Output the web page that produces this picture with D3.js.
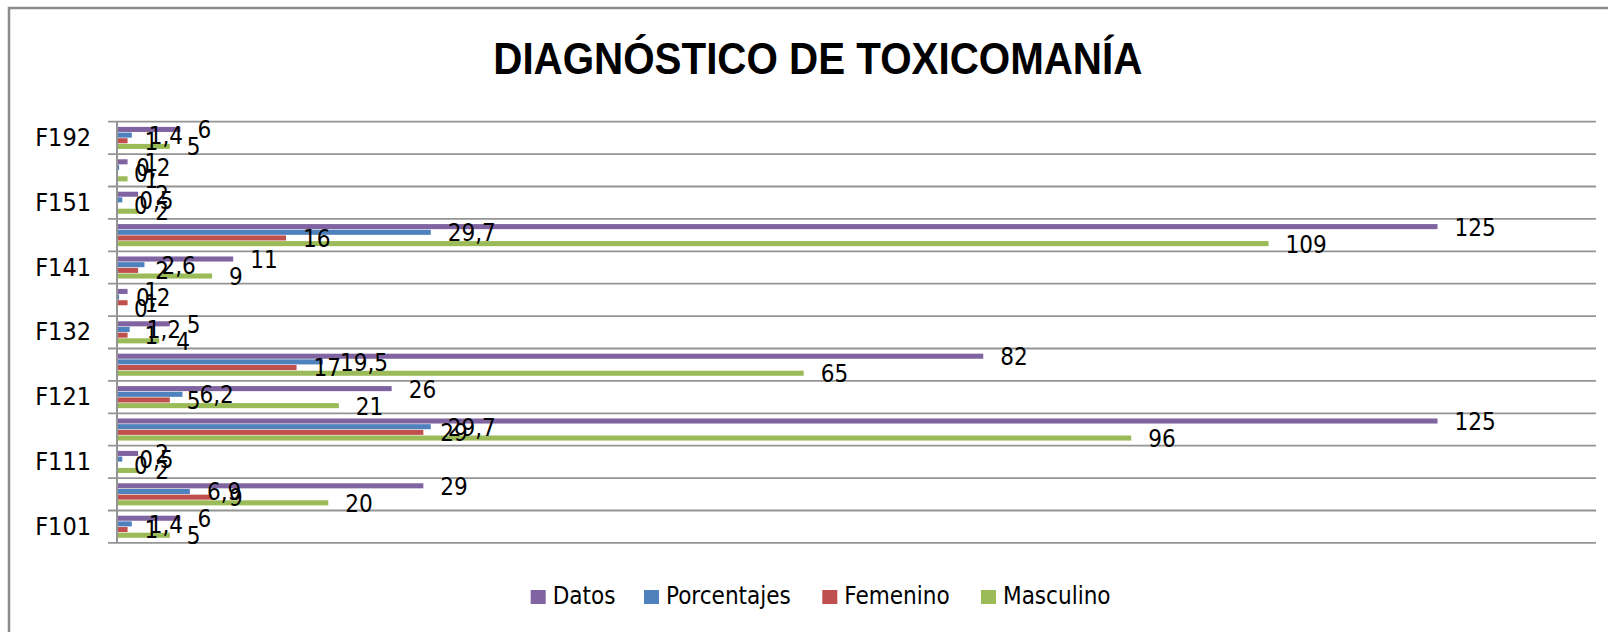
<!DOCTYPE html>
<html>
<head>
<meta charset="utf-8">
<script src="https://cdn.jsdelivr.net/npm/d3@7"></script>
<style>
  body { margin: 0; background: #fff; }
  svg { display: block; }
  text { font-family: "DejaVu Sans Condensed", "DejaVu Sans", sans-serif; fill: #000; }
</style>
</head>
<body>
<svg></svg>
<script>
const size = {w: 1608, h: 632};
const plot = {l: 117, r: 1596, t: 121.7, b: 542.9};

// categories from the bottom row up
const categories = ['F101', 'F102', 'F111', 'F112', 'F121', 'F122', 'F132', 'F133', 'F141', 'F142', 'F151', 'F152', 'F192'];
const series = ['Datos', 'Porcentajes', 'Femenino', 'Masculino'];
const datos       = [6, 29, 2, 125, 26, 82, 5, 1, 11, 125, 2, 1, 6];
const porcentajes = [1.4, 6.9, 0.5, 29.7, 6.2, 19.5, 1.2, 0.2, 2.6, 29.7, 0.5, 0.2, 1.4];
const femenino    = [1, 9, 0, 29, 5, 17, 1, 1, 2, 16, 0, 0, 1];
const masculino   = [5, 20, 2, 96, 21, 65, 4, 0, 9, 109, 2, 1, 5];
const colors = ['#8064A2', '#4F81BD', '#C0504D', '#9BBB59'];

const values = [datos, porcentajes, femenino, masculino];
const rows = categories.map((c, i) => ({
    cat: c,
    vals: series.map((s, j) => ({key: s, value: values[j][i]}))
}));

const svg = d3.select('svg')
    .attr('width', size.w)
    .attr('height', size.h);

// outer chart frame (runs off the right and bottom edge)
svg.append('rect')
    .attr('x', 9).attr('y', 8)
    .attr('width', 1640).attr('height', 700)
    .attr('fill', 'none')
    .attr('stroke', '#8c8c8c')
    .attr('stroke-width', 2.5);

svg.append('text')
    .attr('x', 817.8).attr('y', 74.3)
    .attr('text-anchor', 'middle')
    .attr('textLength', 649)
    .attr('lengthAdjust', 'spacingAndGlyphs')
    .style('font-family', '"Liberation Sans Narrow", "Liberation Sans", Arial, sans-serif')
    .style('font-weight', 'bold')
    .style('font-size', '45px')
    .text('DIAGNÓSTICO DE TOXICOMANÍA');

const x = d3.scaleLinear().domain([0, 140]).range([plot.l, plot.r]);
const y0 = d3.scaleBand().domain(categories).range([plot.b, plot.t]).paddingInner(0);
const y1 = d3.scaleBand().domain(series)
    .range([y0.bandwidth() * 0.16, y0.bandwidth() * 0.86]);

// gridlines at category boundaries, with the tick stubs left of the axis
const bounds = categories.map(c => y0(c)).concat([y0(categories[0]) + y0.bandwidth()]);
svg.append('g')
    .selectAll('line')
    .data(bounds)
    .join('line')
    .attr('x1', plot.l - 9).attr('x2', plot.r)
    .attr('y1', d => d).attr('y2', d => d)
    .attr('stroke', '#949494')
    .attr('stroke-width', 1.8);

const fmt = v => String(v).replace('.', ',');

const group = svg.append('g')
    .selectAll('g')
    .data(rows)
    .join('g')
    .attr('transform', d => `translate(0,${y0(d.cat)})`);

group.selectAll('rect')
    .data(d => d.vals)
    .join('rect')
    .attr('x', x(0))
    .attr('y', d => y1(d.key))
    .attr('width', d => x(d.value) - x(0))
    .attr('height', y1.bandwidth() - 0.6)
    .attr('fill', (d, i) => colors[i]);

group.selectAll('text')
    .data(d => d.vals)
    .join('text')
    .attr('x', d => x(d.value) + 17)
    .attr('y', d => y1(d.key) + y1.bandwidth() / 2)
    .attr('dy', '0.36em')
    .style('font-size', '24px')
    .text(d => fmt(d.value));

// value axis line
svg.append('line')
    .attr('x1', plot.l).attr('x2', plot.l)
    .attr('y1', plot.t).attr('y2', plot.b)
    .attr('stroke', '#949494')
    .attr('stroke-width', 2);

// category labels, every other one like the original
const yAxis = d3.axisLeft(y0)
    .tickValues(categories.filter((c, i) => i % 2 === 0))
    .tickSize(0)
    .tickPadding(26);
const ax = svg.append('g')
    .attr('transform', `translate(${plot.l},0)`)
    .call(yAxis);
ax.select('.domain').remove();
ax.selectAll('text')
    .style('font-family', '"DejaVu Sans Condensed", "DejaVu Sans", sans-serif')
    .style('font-size', '25px')
    .attr('fill', '#000');

// legend
const legendX = [530.7, 644, 822.3, 981];
const legend = svg.append('g')
    .selectAll('g')
    .data(series)
    .join('g')
    .attr('transform', (d, i) => `translate(${legendX[i]},590)`);
legend.append('rect')
    .attr('width', 15).attr('height', 14)
    .attr('fill', (d, i) => colors[i]);
legend.append('text')
    .attr('x', 22).attr('y', 14.3)
    .style('font-size', '24px')
    .text(d => d);
</script>
</body>
</html>
